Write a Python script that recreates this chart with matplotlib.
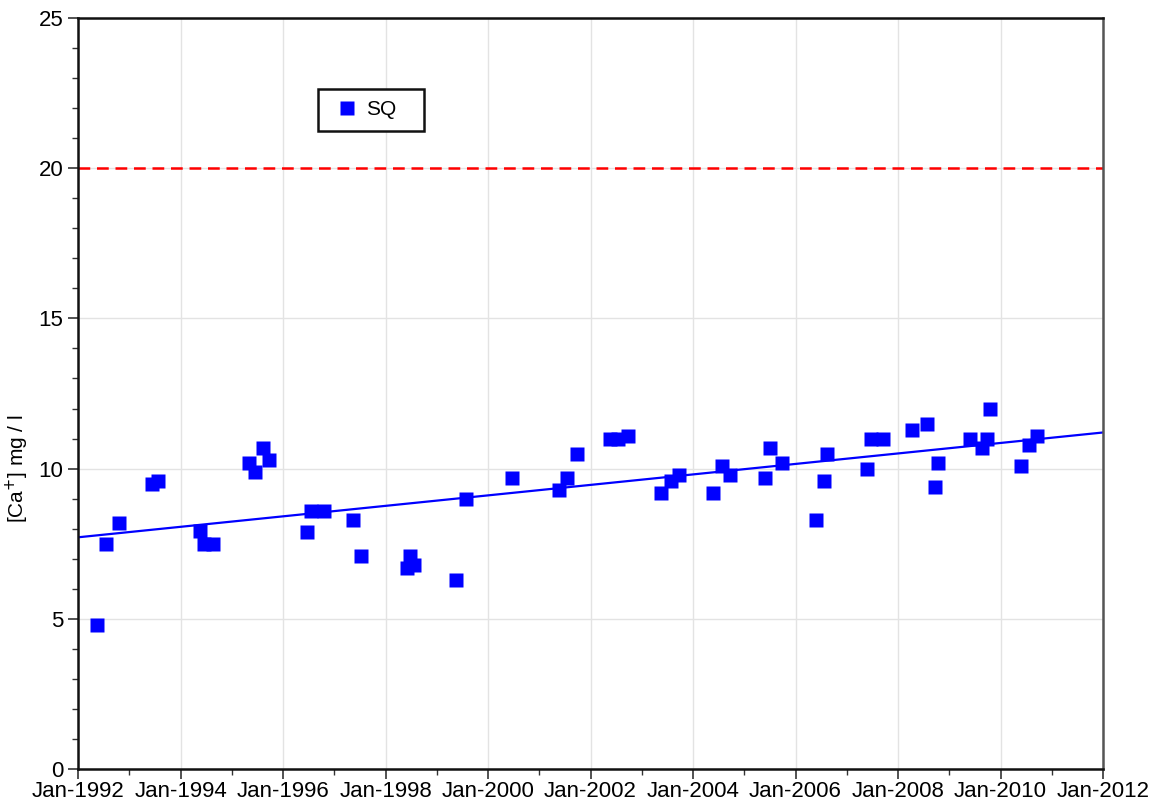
import numpy as np
import matplotlib
matplotlib.use("Agg")
import matplotlib.pyplot as plt
import matplotlib.dates as mdates
from datetime import datetime, timedelta

plt.rcParams['font.family'] = ['Liberation Sans', 'DejaVu Sans']

# sampling dates (decimal years) and [Ca+] values
years = [1992.37, 1992.54, 1992.80, 1993.44, 1993.55,
         1994.38, 1994.45, 1994.64,
         1995.33, 1995.46, 1995.60, 1995.73,
         1996.47, 1996.54, 1996.79, 1997.37, 1997.52,
         1998.42, 1998.48, 1998.55, 1999.38, 1999.57,
         2000.47, 2001.39, 2001.54, 2001.73,
         2002.38, 2002.54, 2002.73,
         2003.37, 2003.57, 2003.73, 2004.39, 2004.56, 2004.72,
         2005.40, 2005.50, 2005.74, 2006.40, 2006.56, 2006.62,
         2007.39, 2007.48, 2007.70, 2008.28, 2008.56, 2008.73, 2008.78,
         2009.41, 2009.63, 2009.73, 2009.80,
         2010.39, 2010.56, 2010.71]
ca = [4.8, 7.5, 8.2, 9.5, 9.6,
      7.93, 7.5, 7.5,
      10.2, 9.9, 10.7, 10.3,
      7.9, 8.6, 8.6, 8.3, 7.1,
      6.7, 7.1, 6.8, 6.3, 9.0,
      9.7, 9.3, 9.7, 10.5,
      11.0, 11.0, 11.1,
      9.2, 9.6, 9.8, 9.2, 10.1, 9.8,
      9.7, 10.7, 10.2, 8.3, 9.6, 10.5,
      10.0, 11.0, 11.0, 11.3, 11.5, 9.4, 10.2,
      11.0, 10.7, 11.0, 12.0,
      10.1, 10.8, 11.1]
limit_value = 20
series_name = 'SQ'
ylabel = '[Ca$^{+}$] mg / l'


def to_date(y):
    yr = int(y)
    start = datetime(yr, 1, 1)
    return start + timedelta(days=(y - yr) * 365.25)


dates = [to_date(y) for y in years]

# linear trend over the full axis range
coef = np.polyfit(years, ca, 1)
x_trend = np.array([1992.0, 2012.0])
y_trend = np.polyval(coef, x_trend)

fig = plt.figure(figsize=(11.58, 8.07), dpi=100)
ax = fig.add_axes([0.0674, 0.0471, 0.8851, 0.9306])

ax.plot(dates, ca, 's', color='#0000ff', ms=10, mec='none', label=series_name, zorder=3)
ax.plot([to_date(v) for v in x_trend], y_trend, color='#0000ff', lw=1.6, zorder=2)
ax.axhline(limit_value, color='#ff0000', lw=1.8, ls=(0, (4.7, 2.7)), zorder=2)

ax.set_xlim(datetime(1992, 1, 1), datetime(2012, 1, 1))
ax.set_ylim(0, 25)
ax.xaxis.set_major_locator(mdates.YearLocator(2))
ax.xaxis.set_minor_locator(mdates.YearLocator(1))
ax.xaxis.set_major_formatter(mdates.DateFormatter('%b-%Y'))
ax.set_yticks(range(0, 26, 5))
ax.set_yticks(range(0, 26), minor=True)

ax.grid(True, which='major', color='#e3e3e3', lw=1.0)
ax.set_axisbelow(True)
ax.tick_params(which='major', direction='out', length=7.5, width=1.2, labelsize=16, color='#333333')
ax.tick_params(which='minor', direction='out', length=4.5, width=1.0, color='#333333')
ax.tick_params(axis='x', pad=1)
ax.tick_params(axis='y', pad=3)

for side in ['left', 'bottom', 'top']:
    ax.spines[side].set_linewidth(1.8)
    ax.spines[side].set_color('#111111')
ax.spines['right'].set_linewidth(1.8)
ax.spines['right'].set_color('#555555')

ax.set_ylabel(ylabel, fontsize=15)
ax.yaxis.set_label_coords(-0.046, 0.40)

leg = ax.legend(loc='upper left', bbox_to_anchor=(0.234, 0.826, 0.104, 0.08),
                mode='expand', borderaxespad=0, fontsize=15,
                fancybox=False, framealpha=1, edgecolor='#111111',
                borderpad=0.55, handletextpad=0.05, handlelength=1.7)
leg.get_frame().set_linewidth(1.8)

fig.savefig('out.png', dpi=100)
